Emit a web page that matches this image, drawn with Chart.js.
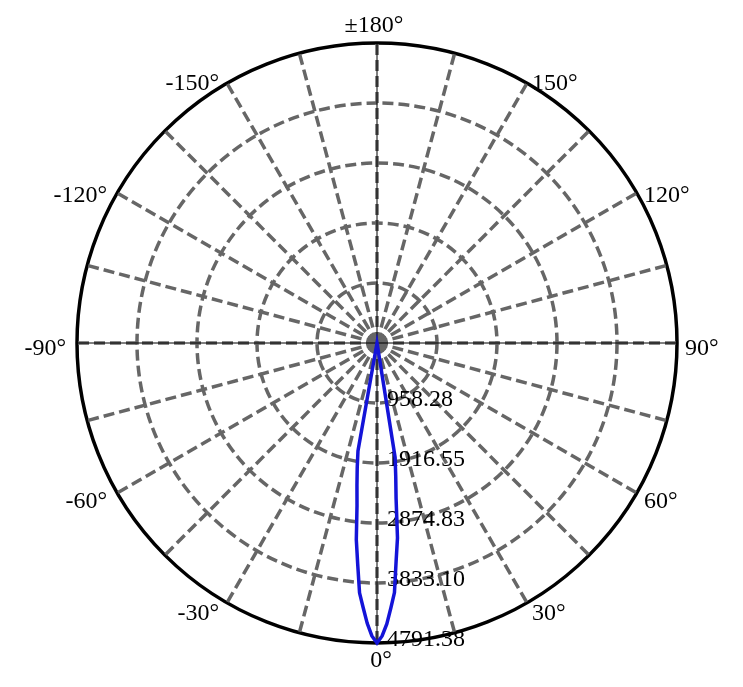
<!DOCTYPE html>
<html>
<head>
<meta charset="utf-8">
<script src="https://cdn.jsdelivr.net/npm/chart.js@4.4.1/dist/chart.umd.min.js"></script>
<style>
  html, body { margin: 0; padding: 0; background: #fff; }
  #wrap { width: 743px; height: 687px; position: relative; }
</style>
</head>
<body>
<div id="wrap"><canvas id="polar"></canvas></div>
<script>
// beam angles (deg) and intensity (cd), everything else ~0
var beamAngles = [-11, -10, -9, -8, -7, -6, -5, -4, -3, -2, -1, 0, 1, 2, 3, 4, 5, 6, 7, 8, 9, 10];
var beamValues = [0, 1750, 2020, 2300, 2620, 3160, 3540, 4000, 4230, 4480, 4680, 4791.38, 4680, 4490, 4236, 3996, 3500, 3130, 2500, 2150, 1850, 30];

var tickValues = [0, 958.28, 1916.55, 2874.83, 3833.10, 4791.38];
var tickLabels = ['', '958.28', '1916.55', '2874.83', '3833.10', '4791.38'];

var labelAngles = [0, 30, 60, 90, 120, 150, 180, -150, -120, -90, -60, -30];
var labelTexts = ['0°', '30°', '60°', '90°', '120°', '150°', '±180°', '-150°', '-120°', '-90°', '-60°', '-30°'];

var FONT = '24px "Liberation Serif", "Times New Roman", serif';
var GREY = '#666666';

// radar goes clockwise from the bottom, so index i is angle -i
var categories = [];
for (var i = 0; i < 360; i++) {
    var a = -i;
    if (a <= -180) a += 360;
    categories.push(a);
}
var values = categories.map(function (a) {
    var k = beamAngles.indexOf(a);
    return k >= 0 ? beamValues[k] : 0;
});

function indexOfAngle(a) {
    return ((360 - a) % 360 + 360) % 360;
}

var polarText = {
    id: 'polarText',
    beforeDatasetsDraw: function (chart) {
        var s = chart.scales.r, c = chart.ctx;
        c.save();
        // thin black axes through the centre
        c.strokeStyle = '#000';
        c.lineWidth = 1;
        [[0, 180], [90, 270]].forEach(function (pair) {
            var p1 = s.getPointPosition(pair[0], s.drawingArea);
            var p2 = s.getPointPosition(pair[1], s.drawingArea);
            c.beginPath();
            c.moveTo(p1.x, p1.y);
            c.lineTo(p2.x, p2.y);
            c.stroke();
        });
        c.font = FONT;
        c.fillStyle = '#000';
        c.textAlign = 'left';
        c.textBaseline = 'middle';
        tickValues.forEach(function (v, k) {
            if (!tickLabels[k]) return;
            var d = s.getDistanceFromCenterForValue(v);
            c.fillText(tickLabels[k], s.xCenter + 10, s.yCenter + d - 3);
        });
        c.restore();
    },
    afterDraw: function (chart) {
        var s = chart.scales.r, c = chart.ctx;
        c.save();
        c.font = FONT;
        c.fillStyle = '#000';
        labelAngles.forEach(function (a, k) {
            var p = s.getPointPosition(indexOfAngle(a), s.drawingArea + 6);
            if (a === 0) {
                c.textAlign = 'center'; c.textBaseline = 'top';
                c.fillText(labelTexts[k], p.x + 4, p.y);
            } else if (a === 180) {
                c.textAlign = 'center'; c.textBaseline = 'bottom';
                c.fillText(labelTexts[k], p.x - 3, p.y + 1);
            } else {
                c.textAlign = a > 0 ? 'left' : 'right';
                c.textBaseline = 'middle';
                c.fillText(labelTexts[k], p.x + (a > 0 ? 2 : -5), p.y + 6);
            }
        });
        c.restore();
    }
};

var ctx = document.getElementById('polar').getContext('2d');
var polarChart = new Chart(ctx, {
    type: 'radar',
    data: {
        labels: categories,
        datasets: [{
            data: values,
            borderColor: '#1414d8',
            borderWidth: 3.5,
            pointRadius: 0,
            pointHoverRadius: 0,
            fill: false,
            tension: 0
        }]
    },
    options: {
        responsive: true,
        maintainAspectRatio: false,
        animation: false,
        layout: {padding: {left: 77, right: 65, top: 43, bottom: 43}},
        plugins: {
            legend: {display: false},
            tooltip: {enabled: false}
        },
        scales: {
            r: {
                min: 0,
                max: 4791.38,
                startAngle: 180,
                afterBuildTicks: function (scale) {
                    scale.ticks = tickValues.map(function (v) { return {value: v}; });
                },
                ticks: {display: false},
                pointLabels: {display: false},
                grid: {
                    circular: true,
                    color: function (c) { return c.index === tickValues.length - 1 ? '#000' : GREY; },
                    lineWidth: 3.5
                },
                border: {
                    dash: function (c) { return c.index === tickValues.length - 1 ? [] : [11, 5]; }
                },
                angleLines: {
                    color: GREY,
                    lineWidth: function (c) { return c.index % 15 === 0 ? 3.5 : 0; },
                    borderDash: [11, 5]
                }
            }
        }
    },
    plugins: [polarText]
});
</script>
</body>
</html>
